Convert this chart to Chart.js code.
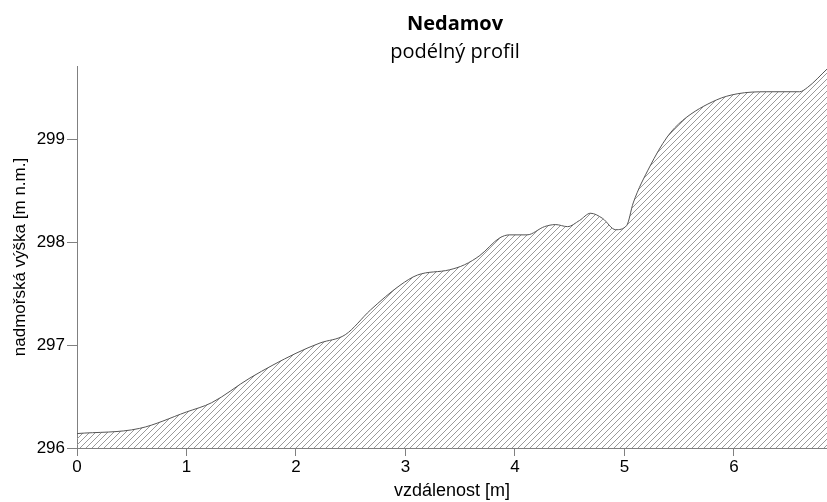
<!DOCTYPE html>
<html>
<head>
<meta charset="utf-8">
<script src="https://cdn.jsdelivr.net/npm/chart.js@4"></script>
<style>
  html, body { margin: 0; padding: 0; background: #fff; }
  #wrap { width: 827px; height: 502px; }
</style>
</head>
<body>
<div id="wrap"><canvas id="profil"></canvas></div>
<script>
// vzdálenost [m]
const distance = [0, 0.57, 1.0, 1.23, 1.58, 2.0, 2.22, 2.45, 2.68, 2.95, 3.11, 3.4, 3.54, 3.68, 3.86, 3.95, 4.11, 4.27, 4.37, 4.48, 4.59, 4.69, 4.8, 4.92, 5.02, 5.08, 5.23, 5.39, 5.53, 5.84, 6.03, 6.3, 6.6, 6.67, 6.85];
// nadmořská výška [m n.m.]
const elevation = [296.14, 296.19, 296.35, 296.44, 296.68, 296.92, 297.02, 297.1, 297.34, 297.58, 297.68, 297.73, 297.78, 297.87, 298.04, 298.07, 298.07, 298.15, 298.17, 298.15, 298.21, 298.28, 298.23, 298.12, 298.16, 298.38, 298.73, 299.02, 299.18, 299.38, 299.44, 299.46, 299.46, 299.5, 299.68];

const xTicks = [0, 1, 2, 3, 4, 5, 6];
const yTicks = [296, 297, 298, 299];

const titleText = 'Nedamov';
const subtitleText = 'podélný profil';

// šrafování plochy pod profilem
function hatchPattern() {
  const s = 6;
  const c = document.createElement('canvas');
  c.width = s; c.height = s;
  const g = c.getContext('2d');
  g.strokeStyle = '#9a9a9a';
  g.lineWidth = 1;
  g.beginPath();
  g.moveTo(0, s); g.lineTo(s, 0);
  g.moveTo(-1, 1); g.lineTo(1, -1);
  g.moveTo(s - 1, s + 1); g.lineTo(s + 1, s - 1);
  g.stroke();
  return g.createPattern(c, 'repeat');
}

const points = distance.map((d, i) => ({ x: d, y: elevation[i] }));

// titulek centrovaný nad plochou grafu
const titlePlugin = {
  id: 'centerTitle',
  afterDraw(chart) {
    const ctx = chart.ctx;
    const cx = (chart.chartArea.left + chart.chartArea.right) / 2 + 3;
    ctx.save();
    ctx.fillStyle = '#000';
    ctx.textAlign = 'center';
    ctx.textBaseline = 'alphabetic';
    ctx.font = 'bold 20px "Open Sans", sans-serif';
    ctx.fillText(titleText, cx, 30);
    ctx.font = '20px "Open Sans", sans-serif';
    ctx.fillText(subtitleText, cx, 58);
    ctx.restore();
  }
};

new Chart(document.getElementById('profil'), {
  type: 'line',
  data: {
    datasets: [{
      data: points,
      borderColor: '#555',
      borderWidth: 1,
      backgroundColor: hatchPattern(),
      fill: 'start',
      pointRadius: 0,
      cubicInterpolationMode: 'monotone'
    }]
  },
  options: {
    responsive: true,
    maintainAspectRatio: false,
    animation: false,
    layout: { padding: { top: 66, right: 0, left: 0, bottom: 0 } },
    plugins: {
      legend: { display: false },
      title: { display: false },
      tooltip: { enabled: false }
    },
    scales: {
      x: {
        type: 'linear',
        min: 0,
        max: 6.85,
        afterBuildTicks: (scale) => { scale.ticks = xTicks.map(v => ({ value: v })); },
        afterFit: (scale) => { scale.height = 54; },
        grid: { display: true, drawOnChartArea: false, drawTicks: true, tickLength: 8, color: '#808080' },
        border: { display: true, color: '#808080', width: 1 },
        ticks: { color: '#000', padding: 1, font: { family: 'Liberation Sans, Arial, sans-serif', size: 17 } },
        title: {
          display: true,
          text: 'vzdálenost [m]',
          color: '#000',
          padding: { top: 0, bottom: 0 },
          font: { family: 'Liberation Sans, Arial, sans-serif', size: 18 }
        }
      },
      y: {
        min: 296,
        max: 299.71,
        afterBuildTicks: (scale) => { scale.ticks = yTicks.map(v => ({ value: v })); },
        afterFit: (scale) => { scale.width = 77; },
        grid: { display: true, drawOnChartArea: false, drawTicks: true, tickLength: 10, color: '#808080' },
        border: { display: true, color: '#808080', width: 1 },
        ticks: { color: '#000', padding: 2, font: { family: 'Liberation Sans, Arial, sans-serif', size: 17 } },
        title: {
          display: true,
          text: 'nadmořská výška [m n.m.]',
          color: '#000',
          padding: { top: 10, bottom: 0 },
          font: { family: 'Liberation Sans, Arial, sans-serif', size: 17 }
        }
      }
    }
  },
  plugins: [titlePlugin]
});
</script>
</body>
</html>
